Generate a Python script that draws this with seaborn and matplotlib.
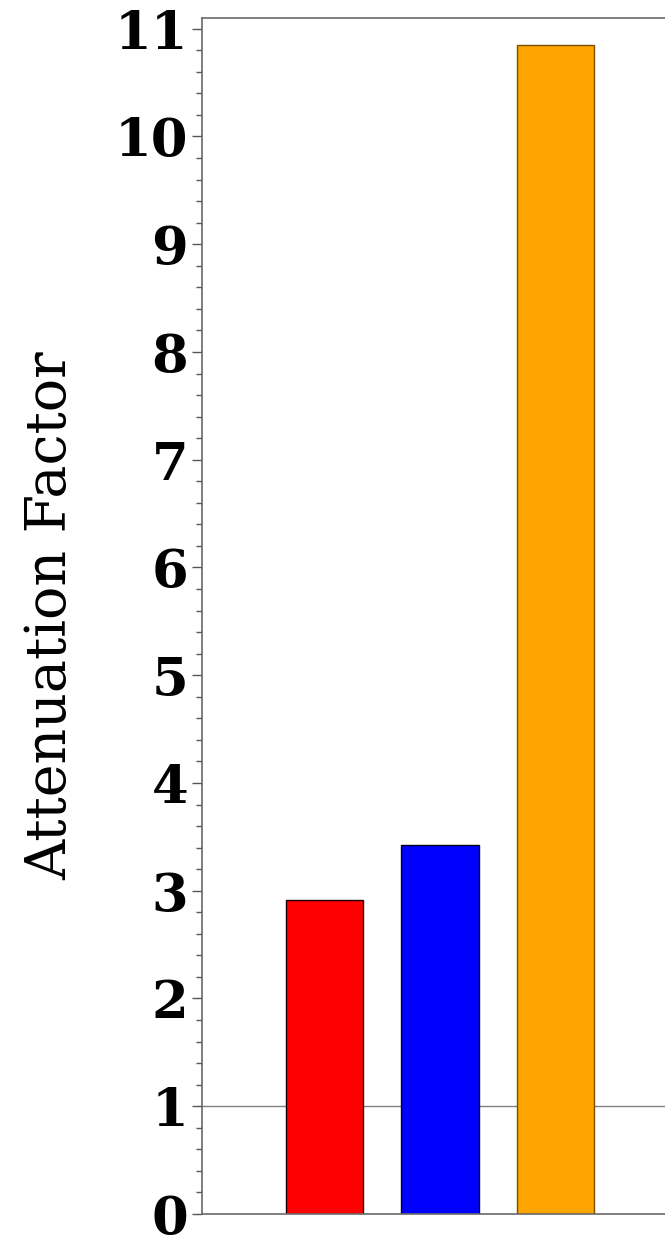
import matplotlib
matplotlib.use("Agg")
import matplotlib.pyplot as plt
from matplotlib.ticker import MultipleLocator
import seaborn as sns
import pandas as pd

# Attenuation factor per sample group
groups = ["Group A", "Group B", "Group C"]
attenuation = [2.91, 3.42, 10.85]
fill_colors = ["#ff0000", "#0000ff", "#ffa500"]
edge_colors = ["#1a0000", "#00001a", "#7a4e00"]
y_ticks = list(range(0, 12))

sns.set_theme(style="white")
plt.rcParams["font.family"] = ["DejaVu Serif"]
plt.rcParams["text.color"] = "black"
plt.rcParams["axes.labelcolor"] = "black"
plt.rcParams["ytick.color"] = "black"

df = pd.DataFrame({"group": groups, "value": attenuation})

fig = plt.figure(figsize=(6.65, 12.46), dpi=100)
ax = fig.add_axes([0.3038, 0.0257, 0.7157, 0.9599])

# reference line at a factor of one, behind the bars
ax.axhline(1, color="#808080", lw=1.0, zorder=0)

sns.barplot(data=df, x="group", y="value", hue="group",
            palette=fill_colors, saturation=1, width=0.667, legend=False,
            linewidth=1.0, ax=ax, zorder=2)
for patch, ec in zip(ax.patches, edge_colors):
    patch.set_edgecolor(ec)

ax.set_xlim(-1.06, 3.06)
ax.set_ylim(0, 11.1)
ax.set_yticks(y_ticks)
ax.yaxis.set_minor_locator(MultipleLocator(0.2))
ax.set_yticklabels([str(t) for t in y_ticks], fontsize=38, fontweight="bold",
                   color="black")
ax.tick_params(axis="y", which="major", left=True, length=7, width=1,
               color="#555555", pad=3)
ax.tick_params(axis="y", which="minor", left=True, length=4, width=1,
               color="#555555")
ax.set_xticks([])
ax.set_xlabel("")
ax.set_ylabel("Attenuation Factor", fontsize=40, labelpad=26, color="black")

for side in ["left", "bottom", "top"]:
    ax.spines[side].set_visible(True)
    ax.spines[side].set_color("#6a6a6a")
    ax.spines[side].set_linewidth(1.2)
ax.spines["right"].set_visible(False)

fig.savefig("out.png", dpi=100)
